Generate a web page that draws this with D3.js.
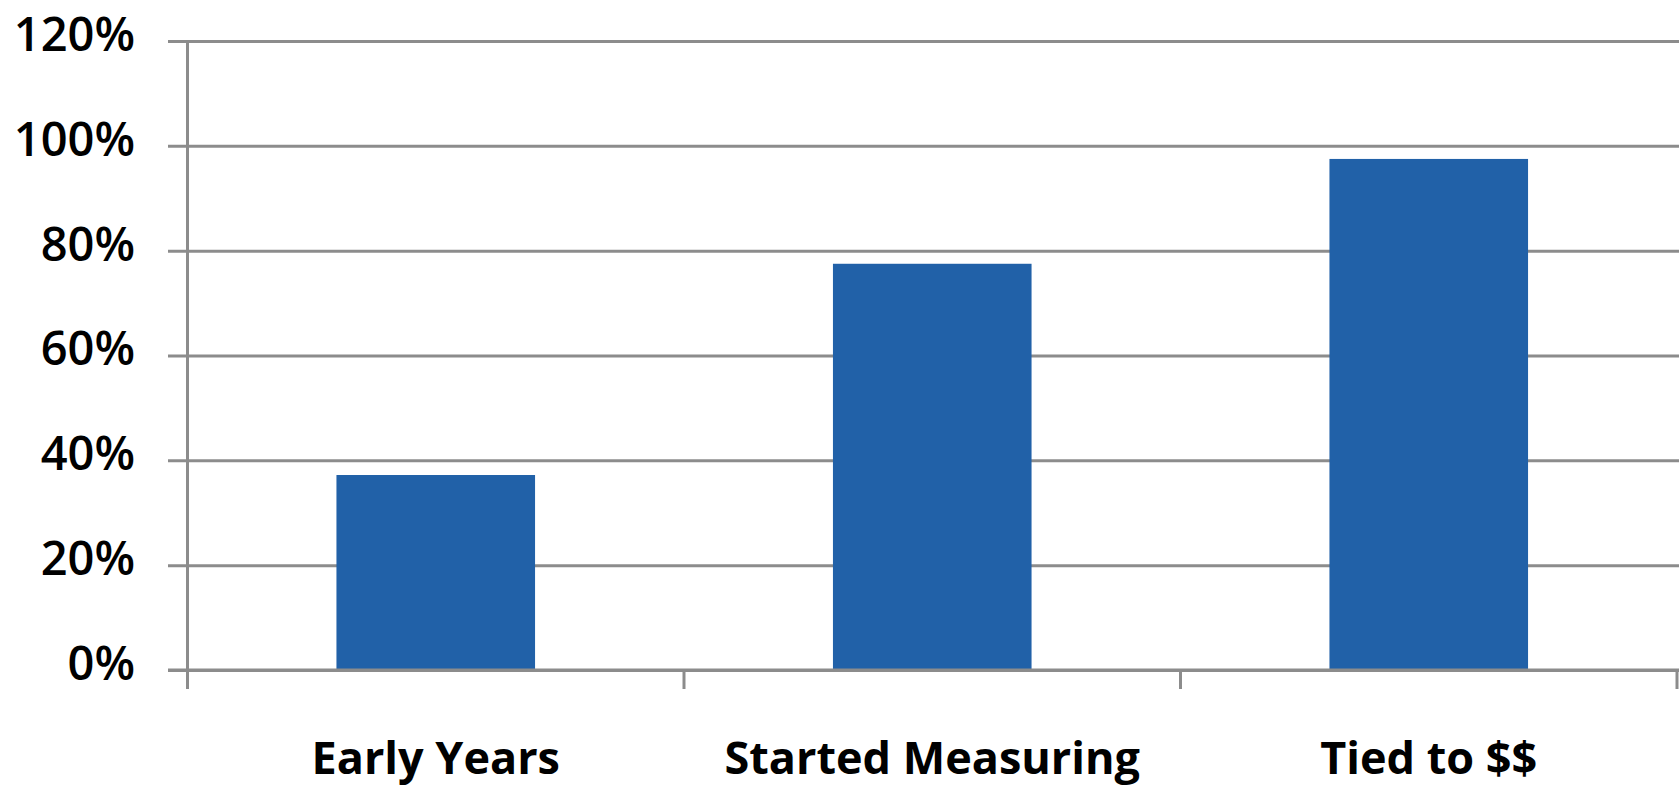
<!DOCTYPE html>
<html>
<head>
<meta charset="utf-8">
<style>
  body { margin: 0; background: #fff; }
  svg { display: block; }
  .ylab text { font-family: "Open Sans", sans-serif; font-weight: 600; font-size: 47px; fill: #000; }
  .xlab { font-family: "Open Sans", sans-serif; font-weight: 700; font-size: 45px; fill: #000; }
</style>
<script src="https://d3js.org/d3.v7.min.js"></script>
</head>
<body>
<svg width="1679" height="786"></svg>
<script>
// data
var categories = ["Early Years", "Started Measuring", "Tied to $$"];
var values = [37.2, 77.5, 97.5];
var yTicks = [0, 20, 40, 60, 80, 100, 120];

var svg = d3.select("svg");
var W = +svg.attr("width");

// plot area (note: "top" is reserved on window, so use other names)
var plotL = 187.5, plotR = 1677, plotT = 41, plotB = 670;
var gridColor = "#8c8c8c";

var y = d3.scaleLinear().domain([0, 120]).range([plotB, plotT]);
var x = d3.scaleBand().domain(categories).range([plotL, plotR]).paddingInner(0.6).paddingOuter(0.3);
var xb = d3.scaleBand().domain(categories).range([plotL, plotR]).padding(0);

// gridlines + y labels
var yAxis = svg.append("g")
  .attr("class", "ylab")
  .attr("transform", "translate(168,0)")
  .call(d3.axisLeft(y).tickValues(yTicks).tickSize(-(W - 168)).tickPadding(33)
    .tickFormat(function(d) { return d + "%"; }));
yAxis.select(".domain").remove();
yAxis.selectAll("line").attr("stroke", gridColor).attr("stroke-width", 3);
yAxis.selectAll("text").attr("dy", "0.2em");

// bars
svg.selectAll(".bar")
  .data(values)
  .enter().append("rect")
  .attr("class", "bar")
  .attr("fill", "#2161a8")
  .attr("x", function(d, i) { return x(categories[i]); })
  .attr("width", x.bandwidth())
  .attr("y", function(d) { return y(d); })
  .attr("height", function(d) { return y(0) - y(d); });

// baseline over bars
svg.append("line")
  .attr("x1", 168).attr("x2", W)
  .attr("y1", y(0)).attr("y2", y(0))
  .attr("stroke", gridColor).attr("stroke-width", 3);

// y axis line
svg.append("line")
  .attr("x1", plotL).attr("x2", plotL)
  .attr("y1", plotT).attr("y2", plotB + 19)
  .attr("stroke", gridColor).attr("stroke-width", 3);

// category separators
var seps = categories.map(function(c) { return xb(c) + xb.bandwidth(); });
svg.selectAll(".sep")
  .data(seps)
  .enter().append("line")
  .attr("class", "sep")
  .attr("x1", function(d) { return d; }).attr("x2", function(d) { return d; })
  .attr("y1", plotB).attr("y2", plotB + 19)
  .attr("stroke", gridColor).attr("stroke-width", 3);

// category labels
svg.selectAll(".xlab")
  .data(categories)
  .enter().append("text")
  .attr("class", "xlab")
  .attr("text-anchor", "middle")
  .attr("x", function(d) { return x(d) + x.bandwidth() / 2; })
  .attr("y", 774)
  .text(function(d) { return d; });
</script>
</body>
</html>
